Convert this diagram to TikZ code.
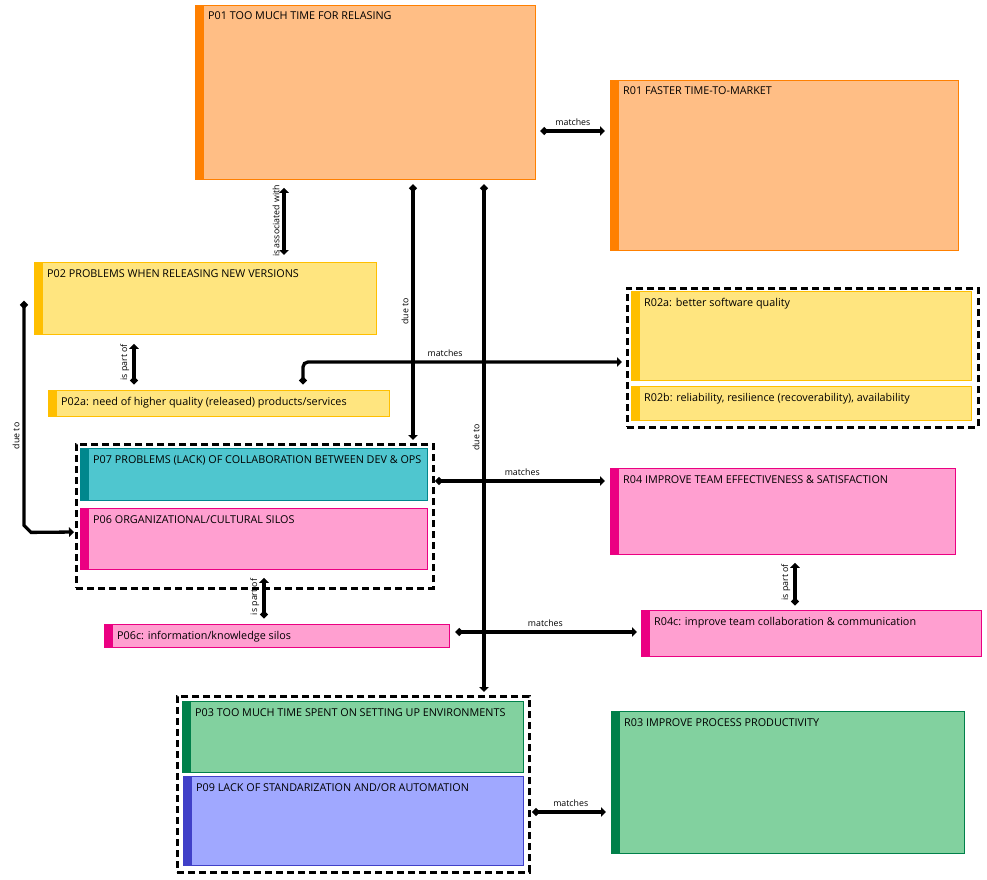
\documentclass[tikz,border=0pt]{standalone}
\usepackage{fontspec}
\setmainfont{Open Sans}
\usetikzlibrary{arrows.meta,positioning}
\definecolor{orangeF}{HTML}{FFBE85}
\definecolor{orangeS}{HTML}{FF8000}
\definecolor{yellowF}{HTML}{FFE57F}
\definecolor{yellowS}{HTML}{FFBF00}
\definecolor{tealF}{HTML}{4FC6CF}
\definecolor{tealS}{HTML}{00878D}
\definecolor{pinkF}{HTML}{FF9FD0}
\definecolor{pinkS}{HTML}{EB0082}
\definecolor{greenF}{HTML}{82D19F}
\definecolor{greenS}{HTML}{00804A}
\definecolor{blueF}{HTML}{A0A8FF}
\definecolor{blueS}{HTML}{4040C8}

\begin{document}
\begin{tikzpicture}[x=1pt,y=-1pt,
  card/.style 2 args={draw=#1,fill=#2,line width=0.8pt,anchor=north west,inner sep=0pt,
    path picture={\fill[#1] (path picture bounding box.north west) rectangle ([xshift=9pt]path picture bounding box.south west);}},
  cardtitle/.style={anchor=base west,xshift=13pt,yshift=-15pt,inner sep=0pt,font=\fontsize{10.8}{12}\selectfont},
  grp/.style={draw,line width=2.5pt,dash pattern=on 7pt off 4pt,anchor=north west,inner sep=0pt},
  rel/.style={line width=3.3pt,{Circle[length=7pt]}-{Triangle[length=5pt,width=9.5pt]},shorten <=5pt,shorten >=5pt},
  twoway/.style={line width=3.3pt,{Triangle[length=5pt,width=9.5pt]}-{Triangle[length=5pt,width=9.5pt]},shorten <=8pt,shorten >=7pt},
  lbl/.style={font=\fontsize{8.8}{10}\selectfont,inner sep=4pt},
  vlbl/.style={lbl,rotate=90,anchor=south,inner sep=3pt}]

  \useasboundingbox[fill=white] (0,0) rectangle (987,880);

  % groups
  \node[grp,minimum width=351,minimum height=139] (G02) at (626,287) {};
  \node[grp,minimum width=357,minimum height=144] (G07) at (75,443) {};
  \node[grp,minimum width=352,minimum height=176] (G03) at (176,695) {};

  % problems
  \node[card={orangeS}{orangeF},minimum width=340,minimum height=174,
    label={[cardtitle]north west:P01 TOO MUCH TIME FOR RELASING}] (P01) at (195,5) {};
  \node[card={yellowS}{yellowF},minimum width=342,minimum height=72,
    label={[cardtitle]north west:P02 PROBLEMS WHEN RELEASING NEW VERSIONS}] (P02) at (34,262) {};
  \node[card={yellowS}{yellowF},minimum width=341,minimum height=26,
    label={[cardtitle]north west:P02a: need of higher quality (released) products/services}] (P02a) at (48,390) {};
  \node[card={tealS}{tealF},minimum width=347,minimum height=52,
    label={[cardtitle]north west:P07 PROBLEMS (LACK) OF COLLABORATION BETWEEN DEV \& OPS}] (P07) at (80,448) {};
  \node[card={pinkS}{pinkF},minimum width=347,minimum height=61,
    label={[cardtitle]north west:P06 ORGANIZATIONAL/CULTURAL SILOS}] (P06) at (80,508) {};
  \node[card={pinkS}{pinkF},minimum width=345,minimum height=23,
    label={[cardtitle]north west:P06c: information/knowledge silos}] (P06c) at (104,624) {};
  \node[card={greenS}{greenF},minimum width=341,minimum height=71,
    label={[cardtitle]north west:P03 TOO MUCH TIME SPENT ON SETTING UP ENVIRONMENTS}] (P03) at (182,701) {};
  \node[card={blueS}{blueF},minimum width=340,minimum height=89,
    label={[cardtitle]north west:P09 LACK OF STANDARIZATION AND/OR AUTOMATION}] (P09) at (183,776) {};

  % results
  \node[card={orangeS}{orangeF},minimum width=348,minimum height=170,
    label={[cardtitle]north west:R01 FASTER TIME-TO-MARKET}] (R01) at (610,80) {};
  \node[card={yellowS}{yellowF},minimum width=340,minimum height=89,
    label={[cardtitle]north west:R02a: better software quality}] (R02a) at (631,291) {};
  \node[card={yellowS}{yellowF},minimum width=340,minimum height=34,
    label={[cardtitle]north west:R02b: reliability, resilience (recoverability), availability}] (R02b) at (631,386) {};
  \node[card={pinkS}{pinkF},minimum width=345,minimum height=86,
    label={[cardtitle]north west:R04 IMPROVE TEAM EFFECTIVENESS \& SATISFACTION}] (R04) at (610,468) {};
  \node[card={pinkS}{pinkF},minimum width=340,minimum height=46,
    label={[cardtitle]north west:R04c: improve team collaboration \& communication}] (R04c) at (641,610) {};
  \node[card={greenS}{greenF},minimum width=353,minimum height=142,
    label={[cardtitle]north west:R03 IMPROVE PROCESS PRODUCTIVITY}] (R03) at (611,711) {};

  % relations
  \draw[rel] (P01.east |- 0,131) -- (R01.west |- 0,131) node[lbl,midway,above] {matches};
  \draw[twoway] (P01.south -| 284,0) -- (P02.north -| 284,0) node[vlbl,midway] {is associated with};
  \draw[rel,shorten >=3pt] (P01.south -| 413,0) -- (G07.north -| 413,0) node[vlbl,midway] {due to};
  \draw[rel,shorten >=3pt] (P01.south -| 484,0) -- (G03.north -| 484,0) node[vlbl,midway] {due to};
  \draw[rel,rounded corners=5pt,shorten <=6pt,shorten >=4pt] (P02a.north -| 303,0) |- (G02.west |- 0,362)
    node[lbl,pos=0.72,above] {matches};
  \draw[rel,shorten <=6pt,shorten >=9pt] (P02a.north -| 134,0) -- (P02.south -| 134,0) node[vlbl,midway] {is part of};
  \draw[rel,shorten <=0pt,shorten >=1pt] ([xshift=-10pt,yshift=-3pt]P02.west) -- ++(0,224) node[vlbl,pos=0.6] {due to}
    -- ++(7,7) -- (G07.west |- 0,532);
  \draw[rel,shorten <=1pt] (G07.east |- 0,481) -- (R04.west |- 0,481) node[lbl,midway,above] {matches};
  \draw[rel,shorten <=6pt,shorten >=8pt] (P06c.north -| 264,0) -- (P06.south -| 264,0) node[vlbl,midway] {is part of};
  \draw[rel,shorten <=6pt,shorten >=4pt] (P06c.east |- 0,632) -- (R04c.west |- 0,632) node[lbl,midway,above] {matches};
  \draw[rel,shorten >=8pt] (R04c.north -| 795,0) -- (R04.south -| 795,0) node[vlbl,midway] {is part of};
  \draw[rel,shorten <=2pt] (G03.east |- 0,812) -- (R03.west |- 0,812) node[lbl,midway,above] {matches};
\end{tikzpicture}
\end{document}
